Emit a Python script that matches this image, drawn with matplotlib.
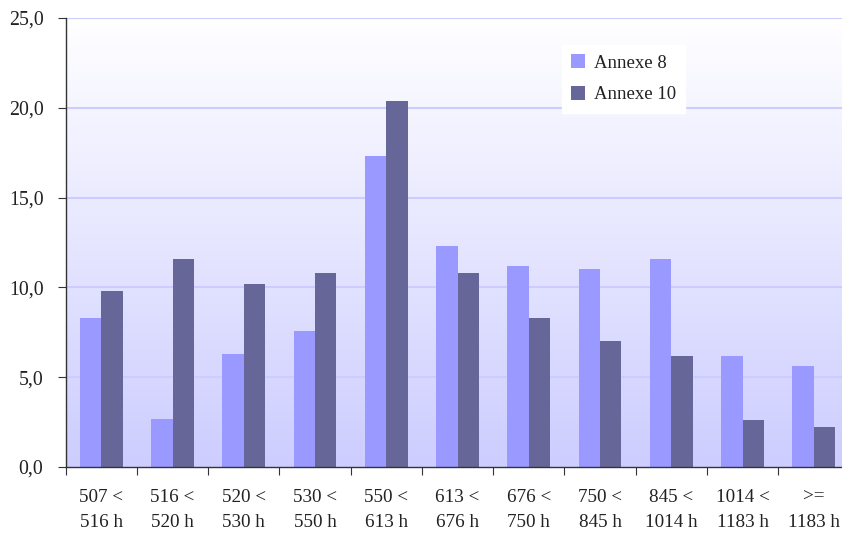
import matplotlib
matplotlib.use("Agg")
import matplotlib.pyplot as plt
import numpy as np
from matplotlib.colors import LinearSegmentedColormap

categories = ["507 <\n516 h", "516 <\n520 h", "520 <\n530 h", "530 <\n550 h", "550 <\n613 h",
              "613 <\n676 h", "676 <\n750 h", "750 <\n845 h", "845 <\n1014 h", "1014 <\n1183 h",
              ">=\n1183 h"]
annexe8 = [8.3, 2.7, 6.3, 7.6, 17.3, 12.3, 11.2, 11.0, 11.6, 6.2, 5.6]
annexe10 = [9.8, 11.6, 10.2, 10.8, 20.4, 10.8, 8.3, 7.0, 6.2, 2.6, 2.2]
yticks = [0, 5, 10, 15, 20, 25]
ytick_labels = ["0,0", "5,0", "10,0", "15,0", "20,0", "25,0"]

plt.rcParams['font.family'] = ['Liberation Serif', 'DejaVu Serif']

W, H = 842, 535
fig = plt.figure(figsize=(W/100, H/100), dpi=100)
left, right, top, bottom = 65.7, 849.5, 18, 467
ax = fig.add_axes([left/W, 1-bottom/H, (right-left)/W, (bottom-top)/H])

n = len(categories)
ax.set_xlim(0, n)
ax.set_ylim(0, 25)

# gradient background
cmap = LinearSegmentedColormap.from_list("bg", ["#ffffff", "#cdcdff"])
grad = np.linspace(0, 1, 256).reshape(-1, 1)
ax.imshow(grad, cmap=cmap, aspect='auto', extent=[0, n, 0, 25], origin='upper', zorder=0)

for y in yticks[1:]:
    ax.axhline(y, color="#ccccff", lw=1.5, zorder=1)

x = np.arange(n) + 0.5
w = 0.3
ax.bar(x - w/2, annexe8, width=w, color="#9999ff", label="Annexe 8", zorder=2)
ax.bar(x + w/2, annexe10, width=w, color="#666699", label="Annexe 10", zorder=2)

fs = 14.3
ax.set_yticks(yticks)
ax.set_yticklabels(ytick_labels, fontsize=fs, color="#222222")
ax.set_xticks(np.arange(n + 1))
ax.set_xticklabels([])
ax.set_xticks(x, minor=True)
ax.set_xticklabels(categories, minor=True, fontsize=13.8, color="#222222", linespacing=1.6)
ax.tick_params(axis='x', which='minor', length=0, pad=16)
ax.tick_params(axis='x', which='major', length=6, direction='out', color="#333333")
ax.tick_params(axis='y', length=6, direction='out', color="#333333", pad=10)

for s in ["top", "right"]:
    ax.spines[s].set_visible(False)
for s in ["left", "bottom"]:
    ax.spines[s].set_color("#333333")
    ax.spines[s].set_linewidth(1.0)

leg = ax.legend(loc="upper left", bbox_to_anchor=((562-left)/(right-left), 1-(45-top)/(bottom-top)),
                borderaxespad=0,
                frameon=True, fancybox=False, edgecolor="white", facecolor="white", framealpha=1,
                fontsize=13.5, handlelength=0.75, handleheight=0.75, labelspacing=0.75,
                borderpad=0.5, handletextpad=0.45)
for t in leg.get_texts():
    t.set_color("#222222")

fig.savefig("out.png", dpi=100)
